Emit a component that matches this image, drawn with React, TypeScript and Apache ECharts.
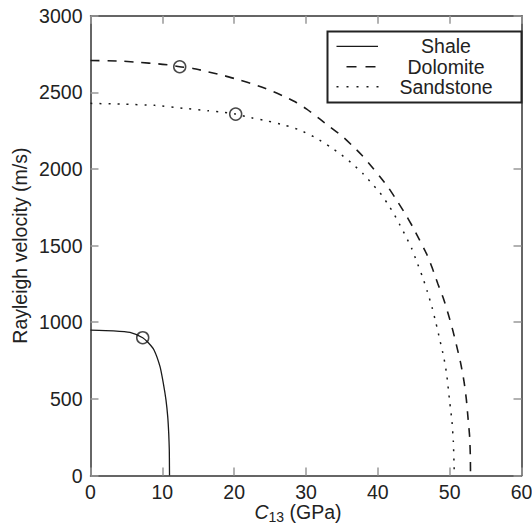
import React, { useEffect, useRef } from "react";
import * as echarts from "echarts";

// ---- data ----
const shaleC13 = [0, 3.2, 5.5, 7.27, 8.05, 8.84, 9.68, 10.14, 10.51, 10.75, 10.89, 10.97, 10.99, 11.0];
const shaleV = [949, 944, 934, 899, 866, 819, 710, 601, 492, 384, 275, 166, 60, 0];

const dolomiteC13 = [0, 4.3, 6.85, 9.4, 11.0, 12.42, 14.27, 16.36, 18.68, 20.77, 22.86, 24.95, 27.03, 28.65, 30.05, 31.95, 33.43, 34.97, 36.36, 37.75, 39.04, 40.3, 41.55, 42.76, 43.78, 44.85, 45.8, 46.8, 47.59, 48.33, 49.12, 49.81, 50.42, 50.97, 51.53, 52.0, 52.32, 52.55, 52.78, 52.88, 52.9];
const dolomiteV = [2708, 2704, 2695, 2686, 2678, 2667, 2656, 2634, 2608, 2580, 2550, 2514, 2472, 2434, 2392, 2325, 2271, 2217, 2156, 2091, 2021, 1949, 1873, 1786, 1710, 1623, 1537, 1445, 1352, 1254, 1157, 1052, 950, 846, 733, 613, 498, 378, 254, 124, 0];

const sandstoneC13 = [0, 4.3, 8.94, 13.12, 16.36, 18.68, 20.21, 22.39, 24.71, 27.03, 29.12, 31.49, 33.34, 34.97, 36.5, 37.98, 39.14, 40.3, 41.32, 42.25, 43.08, 43.92, 44.71, 45.41, 46.2, 46.89, 47.54, 48.1, 48.61, 49.16, 49.58, 50.0, 50.32, 50.51, 50.6, 50.65];
const sandstoneV = [2428, 2423, 2415, 2395, 2380, 2369, 2358, 2334, 2312, 2286, 2254, 2200, 2145, 2091, 2032, 1967, 1906, 1845, 1776, 1706, 1634, 1558, 1482, 1396, 1298, 1200, 1098, 993, 889, 776, 661, 483, 352, 222, 91, 0];

const markerC13 = [7.27, 12.42, 20.21];
const markerV = [899, 2667, 2358];

const seriesNames = ["Shale", "Dolomite", "Sandstone"];
const xTicks = [0, 10, 20, 30, 40, 50, 60];
const yTicks = [0, 500, 1000, 1500, 2000, 2500, 3000];

const FONT = "'Liberation Sans', Arial, Helvetica, sans-serif";
const INK = "#1a1a1a";
const TXT = "#222";

const zip = (xs: number[], ys: number[]) => xs.map((x, i) => [x, ys[i]]);

export default function App() {
  const ref = useRef<HTMLDivElement>(null);
  useEffect(() => {
    if (!ref.current) return;
    const chart = echarts.init(ref.current, undefined, { renderer: "svg" });

    const axisLine = { show: true, onZero: false, lineStyle: { color: "#333", width: 1.5 } };
    const axisTick = { show: true, inside: true, length: 8, lineStyle: { color: "#999", width: 1.5 } };
    const labelStyle = { color: TXT, fontFamily: FONT, fontSize: 19.5, formatter: (v: number) => String(v) };

    const lineTypes: any[] = ["solid", [9, 8], [2, 7]];
    const widths = [1.3, 1.6, 1.5];
    const datas = [zip(shaleC13, shaleV), zip(dolomiteC13, dolomiteV), zip(sandstoneC13, sandstoneV)];

    const legendX0 = 327.5;
    const legendY0 = 31.5;
    const rowY = [46.3, 66.7, 86.7];
    const samples = [
      { x1: 336.5, x2: 378, dash: null as any },
      { x1: 346.5, x2: 375.5, dash: [10, 9] },
      { x1: 336.5, x2: 379, dash: [2, 8] },
    ];

    chart.setOption({
      animation: false,
      backgroundColor: "#fff",
      grid: { left: 90.5, right: 10.5, top: 15.7, bottom: 47.5, containLabel: false, outerBoundsMode: "none" },
      xAxis: [
        {
          type: "value",
          min: xTicks[0],
          max: xTicks[xTicks.length - 1],
          interval: 10,
          position: "bottom",
          axisLine,
          axisTick,
          splitLine: { show: false },
          axisLabel: { ...labelStyle, margin: 6 },
          name: "{c|C}{s|13}{n| (GPa)}",
          nameLocation: "middle",
          nameGap: 26,
          nameMoveOverlap: false,
          nameTextStyle: {
            color: TXT,
            fontFamily: FONT,
            fontSize: 19.5,
            padding: [0, 16, 0, 0],
            rich: {
              c: { fontStyle: "italic", fontSize: 19.5, lineHeight: 24, verticalAlign: "top", color: TXT, fontFamily: FONT },
              s: { fontSize: 14, lineHeight: 14, padding: [8, 0, 0, 0], verticalAlign: "top", color: TXT, fontFamily: FONT },
              n: { fontSize: 19.5, lineHeight: 24, verticalAlign: "top", color: TXT, fontFamily: FONT },
            },
          },
        },
        {
          type: "value",
          min: xTicks[0],
          max: xTicks[xTicks.length - 1],
          interval: 10,
          position: "top",
          axisLine,
          axisTick,
          splitLine: { show: false },
          axisLabel: { show: false },
        },
      ],
      yAxis: [
        {
          type: "value",
          min: yTicks[0],
          max: yTicks[yTicks.length - 1],
          interval: 500,
          position: "left",
          axisLine,
          axisTick,
          splitLine: { show: false },
          axisLabel: { ...labelStyle, margin: 8 },
          name: "Rayleigh velocity (m/s)",
          nameLocation: "middle",
          nameGap: 61,
          nameMoveOverlap: false,
          nameTextStyle: { color: TXT, fontFamily: FONT, fontSize: 19.5 },
        },
        {
          type: "value",
          min: yTicks[0],
          max: yTicks[yTicks.length - 1],
          interval: 500,
          position: "right",
          axisLine,
          axisTick,
          splitLine: { show: false },
          axisLabel: { show: false },
        },
      ],
      series: [
        ...seriesNames.map((name, i) => ({
          type: "line",
          name,
          data: datas[i],
          xAxisIndex: 0,
          yAxisIndex: 0,
          showSymbol: false,
          symbol: "none",
          smooth: 0.2,
          silent: true,
          lineStyle: { color: INK, width: widths[i], type: lineTypes[i] },
        })),
        {
          type: "scatter",
          name: "markers",
          data: zip(markerC13, markerV),
          symbol: "circle",
          symbolSize: 12,
          silent: true,
          z: 5,
          itemStyle: { color: "rgba(0,0,0,0)", borderColor: INK, borderWidth: 1.5 },
        },
      ],
      graphic: [
        {
          type: "rect",
          shape: { x: legendX0, y: legendY0, width: 521.5 - legendX0, height: 71 },
          style: { fill: "#fff", stroke: "#222", lineWidth: 2 },
          z: 10,
        },
        ...samples.map((s, i) => ({
          type: "line",
          shape: { x1: s.x1, y1: rowY[i], x2: s.x2, y2: rowY[i] },
          style: { stroke: INK, lineWidth: widths[i], lineDash: s.dash },
          z: 11,
        })),
        ...seriesNames.map((name, i) => ({
          type: "text",
          x: 446,
          y: rowY[i],
          style: {
            text: name,
            fill: TXT,
            font: `19.5px ${FONT}`,
            align: "center",
            verticalAlign: "middle",
          },
          z: 11,
        })),
      ],
    });
    return () => chart.dispose();
  }, []);
  return (
    <div
      ref={ref}
      style={{ position: "fixed", left: 0, top: 0, width: 532, height: 523, background: "#fff" }}
    />
  );
}
